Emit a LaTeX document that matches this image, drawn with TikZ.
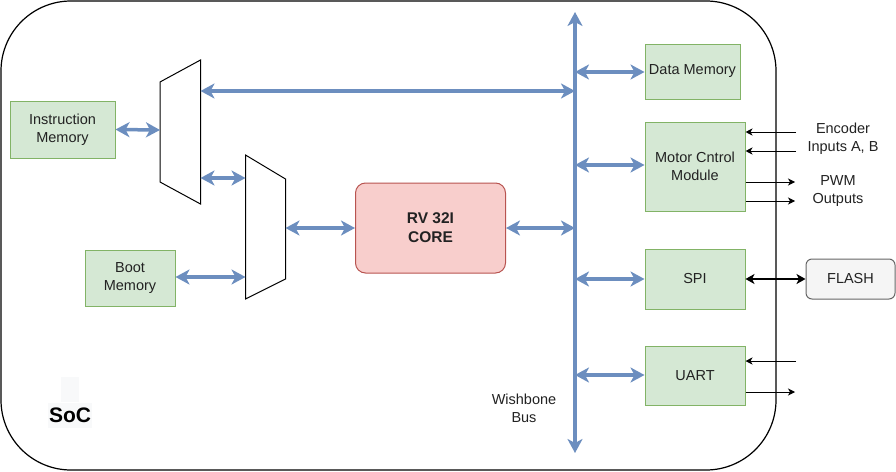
\documentclass[tikz,border=0pt]{standalone}
\usepackage{fontspec}
\setmainfont{Liberation Sans}
\usetikzlibrary{arrows.meta}
\definecolor{gfill}{HTML}{D5E8D4}
\definecolor{gdraw}{HTML}{82B366}
\definecolor{rfill}{HTML}{F8CECC}
\definecolor{rdraw}{HTML}{B85450}
\definecolor{blu}{HTML}{6C8EBF}
\definecolor{flfill}{HTML}{F5F5F5}
\definecolor{fldraw}{HTML}{666666}
\definecolor{txt}{HTML}{222222}
\definecolor{socbg}{HTML}{F8F9FA}
\begin{document}
\begin{tikzpicture}[x=1pt,y=-1pt,
  lbl/.style={font=\fontsize{14.5}{18}\selectfont, text=txt, align=center, inner sep=0pt},
  box/.style={lbl, draw=gdraw, fill=gfill, line width=1pt},
  barrow/.style={draw=blu, line width=3.5pt,
    {Stealth[length=14pt,width=15pt,inset=4pt]}-{Stealth[length=14pt,width=15pt,inset=4pt]}},
  bbarrow/.style={draw=black, line width=1.8pt,
    {Stealth[length=9pt,width=10pt,inset=2.5pt]}-{Stealth[length=9pt,width=10pt,inset=2.5pt]}},
  tarrow/.style={draw=black, line width=0.9pt, -{Stealth[length=7pt,width=7pt,inset=2pt]}},
  muxline/.style={draw=black, line width=1pt}]
\useasboundingbox (0,0) rectangle (896,471);
\fill[white] (0,0) rectangle (896,471);
% outer SoC boundary
\draw[line width=1.2pt, rounded corners=70pt] (1,1) rectangle (776,470);

% SoC label
\fill[socbg] (61,377) rectangle (79,402);
\fill[socbg] (48,403) rectangle (92,428);
\node[font=\fontsize{21}{23}\selectfont\bfseries, inner sep=0pt] (soc) at (70,415.5) {SoC};

% boxes
\node[box, minimum width=105pt, minimum height=57pt] (im) at (62.5,129.5) {Instruction\\Memory};
\node[box, minimum width=90pt, minimum height=56pt] (bm) at (130,278) {Boot\\Memory};
\node[lbl, draw=rdraw, fill=rfill, line width=1pt, rounded corners=10pt,
      minimum width=150pt, minimum height=90pt, font=\fontsize{15.5}{19}\selectfont\bfseries] (core) at (430.5,228) {RV 32I\\CORE};
\node[box, minimum width=95pt, minimum height=55pt] (dm) at (692.5,71.5) {Data Memory};
\node[box, minimum width=100pt, minimum height=89pt] (mc) at (695,166.5) {Motor Cntrol\\Module};
\node[box, minimum width=100pt, minimum height=60pt] (spi) at (695,279) {SPI};
\node[box, minimum width=100pt, minimum height=59pt] (uart) at (695,375.5) {UART};
\node[lbl, draw=fldraw, fill=flfill, line width=1pt, rounded corners=6pt, text=txt,
      minimum width=89pt, minimum height=40pt] (flash) at (850.5,279) {FLASH};

% muxes
\coordinate (m1a) at (160,82);  \coordinate (m1b) at (200.5,60);
\coordinate (m1c) at (200.5,204); \coordinate (m1d) at (160,182);
\draw[muxline] (m1a) -- (m1b) -- (m1c) -- (m1d) -- cycle;
\coordinate (m2a) at (245.5,155); \coordinate (m2b) at (285.5,179);
\coordinate (m2c) at (285.5,279); \coordinate (m2d) at (245.5,299);
\draw[muxline] (m2a) -- (m2b) -- (m2c) -- (m2d) -- cycle;

% bus
\coordinate (bustop) at (575,12);
\coordinate (busbot) at (575,453);
\draw[barrow] (bustop) -- (busbot);
\node[lbl] (wb) at (524,408) {Wishbone\\Bus};

% blue connectors
\coordinate (m1in) at (160,130);
\coordinate (m1out) at (200.5,91);
\coordinate (m1o2) at (200.5,178);
\coordinate (m2in) at (245.5,178);
\coordinate (m2bt) at (245.5,277);
\coordinate (m2out) at (285.5,228);
\coordinate (b1) at (575,91);
\coordinate (b2) at (575,228);
\coordinate (b3) at (575,72);
\coordinate (b4) at (575,165);
\coordinate (b5) at (575,279);
\coordinate (b6) at (575,375);
\draw[barrow] (im.east) -- (m1in);
\draw[barrow] (m1o2) -- (m2in);
\draw[barrow] (bm.east |- m2bt) -- (m2bt);
\draw[barrow] (m1out) -- (b1);
\draw[barrow] (m2out) -- (core.west);
\draw[barrow] (core.east) -- (b2);
\draw[barrow] (b3) -- (dm.west |- b3);
\draw[barrow] (b4) -- (mc.west |- b4);
\draw[barrow] (b5) -- (spi.west);
\draw[barrow] (b6) -- (uart.west |- b6);

% SPI - FLASH
\draw[bbarrow] (spi.east) -- (flash.west);

% motor control IO
\coordinate (e1) at (796,132);
\coordinate (e2) at (796,151);
\coordinate (p1) at (795,182);
\coordinate (p2) at (795,201);
\draw[tarrow] (e1) -- (mc.east |- e1);
\draw[tarrow] (e2) -- (mc.east |- e2);
\draw[tarrow] (mc.east |- p1) -- (p1);
\draw[tarrow] (mc.east |- p2) -- (p2);
\node[lbl] (enc) at (843,139) {Encoder\\Inputs A, B};
\node[lbl] (pwm) at (838,191) {PWM\\Outputs};

% UART IO
\coordinate (u1) at (796,361);
\coordinate (u2) at (795,392);
\draw[tarrow] (u1) -- (uart.east |- u1);
\draw[tarrow] (uart.east |- u2) -- (u2);
\end{tikzpicture}
\end{document}
